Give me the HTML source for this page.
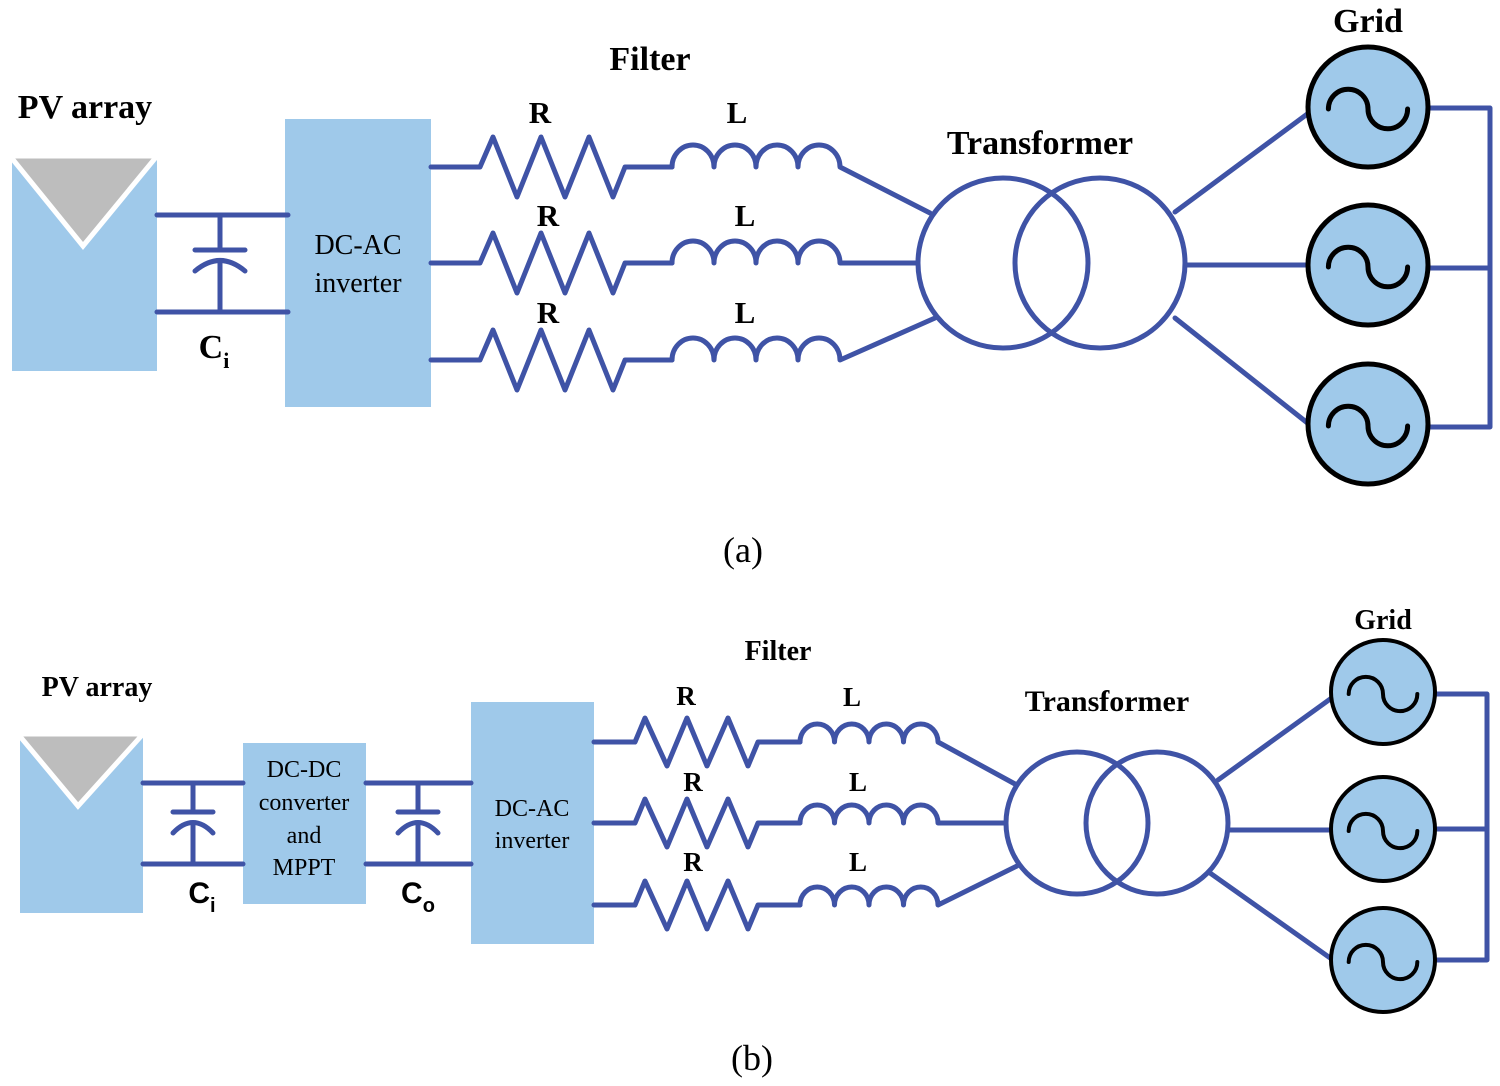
<!DOCTYPE html>
<html><head><meta charset="utf-8"><style>
html,body{margin:0;padding:0;background:#fff}
svg{display:block}
text{font-family:"Liberation Serif",serif;fill:#000}
.b{font-weight:bold}
</style></head><body>
<svg id="s" width="1500" height="1086" viewBox="0 0 1500 1086" xmlns="http://www.w3.org/2000/svg">
<g id="g" fill="none" stroke="#3f53a6" stroke-width="5" stroke-linejoin="round" stroke-linecap="round"></g>
<!-- (a) texts -->
<text x="85" y="118" font-size="34" class="b" text-anchor="middle">PV array</text>
<text x="650" y="70" font-size="34" class="b" text-anchor="middle">Filter</text>
<text x="1040" y="154" font-size="34" class="b" text-anchor="middle">Transformer</text>
<text x="1368" y="32" font-size="34" class="b" text-anchor="middle">Grid</text>
<text x="358" y="254" font-size="28" text-anchor="middle">DC-AC</text>
<text x="358" y="292" font-size="28" text-anchor="middle">inverter</text>
<text x="743" y="562" font-size="36" text-anchor="middle">(a)</text>
<text x="214" y="358" font-size="34" class="b" text-anchor="middle">C<tspan font-size="22" dy="10">i</tspan></text>
<g font-size="31" class="b" text-anchor="middle" font-weight="bold">
<text x="540" y="123">R</text><text x="737" y="123">L</text>
<text x="548" y="226">R</text><text x="745" y="226">L</text>
<text x="548" y="323">R</text><text x="745" y="323">L</text>
</g>
<!-- (b) texts -->
<text x="97" y="696" font-size="28" class="b" text-anchor="middle">PV array</text>
<text x="778" y="660" font-size="28" class="b" text-anchor="middle">Filter</text>
<text x="1107" y="711" font-size="30" class="b" text-anchor="middle">Transformer</text>
<text x="1383" y="629" font-size="28" class="b" text-anchor="middle">Grid</text>
<g font-size="27" text-anchor="middle" font-weight="bold">
<text x="686" y="705">R</text><text x="852" y="706">L</text>
<text x="693" y="791">R</text><text x="858" y="791">L</text>
<text x="693" y="871">R</text><text x="858" y="871">L</text>
</g>
<text x="304" y="777" font-size="24" text-anchor="middle">DC-DC</text>
<text x="304" y="810" font-size="24" text-anchor="middle">converter</text>
<text x="304" y="843" font-size="24" text-anchor="middle">and</text>
<text x="304" y="875" font-size="24" text-anchor="middle">MPPT</text>
<text x="532" y="816" font-size="24" text-anchor="middle">DC-AC</text>
<text x="532" y="848" font-size="24" text-anchor="middle">inverter</text>
<text x="752" y="1070" font-size="36" text-anchor="middle">(b)</text>
<text x="202" y="903" font-size="30" class="b" text-anchor="middle" style="font-family:'Liberation Sans',sans-serif">C<tspan font-size="20" dy="9">i</tspan></text>
<text x="418" y="903" font-size="30" class="b" text-anchor="middle" style="font-family:'Liberation Sans',sans-serif">C<tspan font-size="20" dy="9">o</tspan></text>
</svg>
<script>
var NS="http://www.w3.org/2000/svg",g=document.getElementById('g'),s=document.getElementById('s');
function el(t,a,p){var e=document.createElementNS(NS,t);for(var k in a)e.setAttribute(k,a[k]);(p||g).appendChild(e);return e;}
function P(d,extra){var a={d:d};for(var k in extra)a[k]=extra[k];return el('path',a);}
function rect(x,y,w,h){el('rect',{x:x,y:y,width:w,height:h,fill:'#9fc9ea',stroke:'none'},s.insertBefore(document.createElementNS(NS,'g'),g));}
function pv(x,y,w,h,ax,ay){rect(x,y,w,h);var gg=s.insertBefore(document.createElementNS(NS,'g'),g);
 el('path',{d:'M'+(x-2)+' '+(y-1)+' L'+(x+w)+' '+(y-1)+' L'+ax+' '+ay+' Z',fill:'#bdbdbd',stroke:'#fff','stroke-width':5,'stroke-linejoin':'miter'},gg);}
function res(x0,y,px,amp,x1,xe){var d='M'+x0+' '+y+' L'+px[0]+' '+y;var up=true;
 for(var i=1;i<px.length-1;i++){d+=' L'+px[i]+' '+(y+(up?-amp:amp));up=!up;}
 d+=' L'+px[px.length-1]+' '+y+' L'+xe+' '+y;P(d);}
function ind(x0,y,n,w,r,x1,y1){var d='M'+x0+' '+y;for(var i=0;i<n;i++){d+=' a'+(w/2)+' '+r+' 0 0 1 '+w+' 0';}d+=' L'+x1+' '+y1;P(d);}
function cap(x,y1,y2,pw,py,cy){P('M'+x+' '+y1+' L'+x+' '+py+' M'+(x-pw)+' '+py+' L'+(x+pw)+' '+py+' M'+(x-pw)+' '+(cy+9)+' Q'+x+' '+(cy-12)+' '+(x+pw)+' '+(cy+9)+' M'+x+' '+(cy)+' L'+x+' '+y2);}
function grid(cx,cy,r,sw){el('circle',{cx:cx,cy:cy,r:r,fill:'#9fc9ea',stroke:'#000','stroke-width':sw});
 var a=r*0.33;P('M'+(cx-2*a)+' '+(cy+2)+' a'+a+' '+a+' 0 0 1 '+(2*a)+' 0 a'+a+' '+a+' 0 0 0 '+(2*a)+' 0',{stroke:'#000','stroke-width':sw});}
// ===== (a)
pv(12,157,145,214,83,246);
rect(285,119,146,288);
P('M157 215 L288 215 M157 312 L288 312');
cap(220,215,312,25,250,262);
[167,263,360].forEach(function(y){res(431,y,[480,493,517,541,565,589,613,625],30,625,672);ind(672,y,4,42,22,y==263?918:(y==167?930:935),y==167?213:(y==263?263:318));});
el('circle',{cx:1003,cy:263,r:85});el('circle',{cx:1100,cy:263,r:85});
P('M1175 212 L1310 112 M1187 265 L1310 265 M1175 318 L1310 425');
P('M1428 108 L1490 108 L1490 427 L1428 427 M1428 268 L1490 268');
grid(1368,107,60,5);grid(1368,265,60,5);grid(1368,424,60,5);
// ===== (b)
pv(20,735,123,178,78,806);
rect(243,743,123,161);
rect(471,702,123,242);
P('M143 783 L243 783 M143 864 L243 864 M366 783 L471 783 M366 864 L471 864');
cap(193,783,864,20,812,824);cap(418,783,864,20,812,824);
[742,823,905].forEach(function(y){res(594,y,[635,645,667,687,707,728,748,758],24,758,800);
 var tx=y==742?1015:(y==823?1005:1017),ty=y==742?784:(y==823?823:866);ind(800,y,4,34.5,18,tx,ty);});
el('circle',{cx:1077,cy:823,r:71});el('circle',{cx:1157,cy:823,r:71});
P('M1218 780 L1333 697 M1230 830 L1333 830 M1210 873 L1333 960');
P('M1435 694 L1487 694 L1487 960 L1435 960 M1435 829 L1487 829');
grid(1383,692,52,4);grid(1383,829,52,4);grid(1383,960,52,4);
</script>
</body></html>
